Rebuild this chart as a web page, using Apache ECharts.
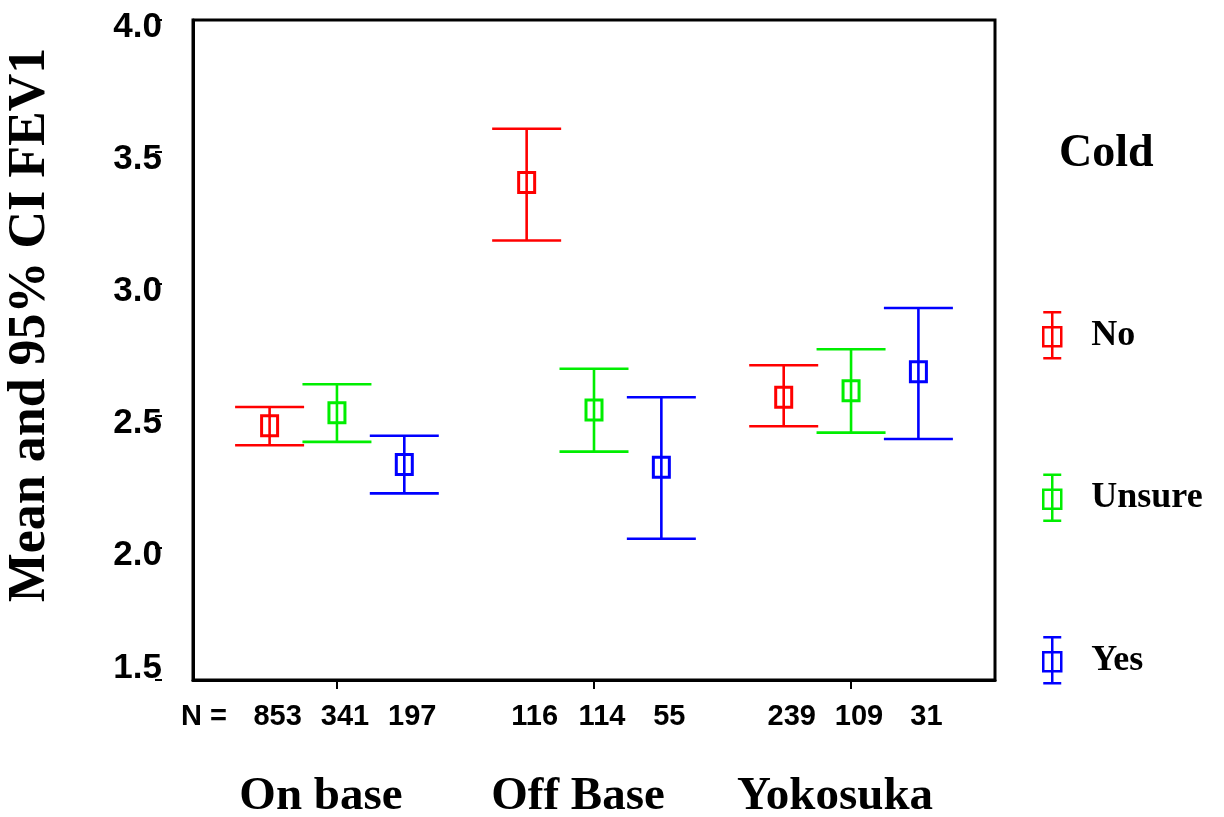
<!DOCTYPE html>
<html>
<head>
<meta charset="utf-8">
<script src="https://cdn.jsdelivr.net/npm/echarts@6/dist/echarts.min.js"></script>
<style>html,body{margin:0;padding:0;background:#fff;}#c{width:1224px;height:817px;}</style>
</head>
<body>
<div id="c"></div>
<script>
const groups = ['On base', 'Off Base', 'Yokosuka'];
const coldLevels = ['No', 'Unsure', 'Yes'];
const coldColors = ['#ff0000', '#00ee00', '#0000ff'];
const groupPos = [1, 2, 3];
const clusterOffset = [-0.262, 0, 0.262];
const yTicks = [1.5, 2.0, 2.5, 3.0, 3.5, 4.0];

const meanNo = [2.463, 3.384, 2.571];
const lowNo = [2.389, 3.165, 2.461];
const highNo = [2.534, 3.588, 2.692];
const nNo = [853, 116, 239];

const meanUnsure = [2.512, 2.523, 2.596];
const lowUnsure = [2.402, 2.365, 2.437];
const highUnsure = [2.620, 2.679, 2.753];
const nUnsure = [341, 114, 109];

const meanYes = [2.316, 2.306, 2.668];
const lowYes = [2.207, 2.035, 2.413];
const highYes = [2.425, 2.571, 2.909];
const nYes = [197, 55, 31];

const means = [meanNo, meanUnsure, meanYes];
const lows = [lowNo, lowUnsure, lowYes];
const highs = [highNo, highUnsure, highYes];
const ns = [nNo, nUnsure, nYes];

const chart = echarts.init(document.getElementById('c'));

function renderBar(params, api) {
  const x = api.value(0), lo = api.value(1), m = api.value(2), hi = api.value(3);
  const pHi = api.coord([x, hi]), pLo = api.coord([x, lo]), pM = api.coord([x, m]);
  const color = api.visual('color');
  const half = 34.5;
  const st = {stroke: color, lineWidth: 2.6, fill: null};
  return {
    type: 'group',
    children: [
      {type: 'line', shape: {x1: pHi[0], y1: pHi[1], x2: pLo[0], y2: pLo[1]}, style: st},
      {type: 'line', shape: {x1: pHi[0] - half, y1: pHi[1], x2: pHi[0] + half, y2: pHi[1]}, style: st},
      {type: 'line', shape: {x1: pLo[0] - half, y1: pLo[1], x2: pLo[0] + half, y2: pLo[1]}, style: st},
      {type: 'rect', shape: {x: pM[0] - 8, y: pM[1] - 10, width: 16, height: 20}, style: {stroke: color, lineWidth: 3, fill: null}}
    ]
  };
}

function renderN(params, api) {
  const x = api.value(0), n = api.value(1);
  const p = api.coord([x, yTicks[0]]);
  return {
    type: 'text',
    x: p[0] + 8, y: p[1] + 37,
    style: {text: String(n), font: 'bold 29px "Liberation Sans", Arial, sans-serif', fill: '#000', align: 'center', verticalAlign: 'middle'}
  };
}

const series = [];
coldLevels.forEach((lvl, ci) => {
  series.push({
    type: 'custom',
    name: lvl,
    renderItem: renderBar,
    itemStyle: {color: coldColors[ci]},
    encode: {x: 0, y: [1, 2, 3]},
    data: groupPos.map((g, gi) => [g + clusterOffset[ci], lows[ci][gi], means[ci][gi], highs[ci][gi]]),
    z: 3
  });
});
series.push({
  type: 'custom',
  name: 'N',
  renderItem: renderN,
  encode: {x: 0},
  clip: false,
  silent: true,
  data: [].concat(...coldLevels.map((l, ci) => groupPos.map((g, gi) => [g + clusterOffset[ci], ns[ci][gi]])))
});

const iconPath = 'path://M0,0H18M9,0V46M0,46H18M0,15H18V34H0Z';

chart.setOption({
  animation: false,
  backgroundColor: '#fff',
  title: {
    text: 'Cold', left: 1054, top: 126,
    textStyle: {fontFamily: '"Liberation Serif", "Times New Roman", serif', fontWeight: 'bold', fontSize: 46, color: '#000'}
  },
  legend: {
    orient: 'vertical', left: 1037, top: 306,
    itemWidth: 18, itemHeight: 46, itemGap: 114,
    selectedMode: false,
    data: coldLevels.map((l, ci) => ({
      name: l, icon: iconPath,
      itemStyle: {color: 'rgba(0,0,0,0)', borderColor: coldColors[ci], borderWidth: 2.5}
    })),
    textStyle: {fontFamily: '"Liberation Serif", "Times New Roman", serif', fontWeight: 'bold', fontSize: 36, color: '#000', padding: [0, 0, 0, 25]}
  },
  grid: {left: 193, top: 20, right: 229, bottom: 137, show: true, borderColor: '#000', borderWidth: 3, containLabel: false, outerBoundsMode: 'none'},
  xAxis: {
    type: 'value', min: 0.44, max: 3.56,
    splitLine: {show: false},
    axisLine: {show: true, lineStyle: {color: '#000', width: 3}},
    axisTick: {show: true, customValues: groupPos, length: 9, lineStyle: {color: '#000', width: 2}},
    axisLabel: {
      customValues: groupPos,
      formatter: v => '{g|' + groups[Math.round(v) - 1] + '}',
      margin: 93,
      rich: {g: {fontFamily: '"Liberation Serif", "Times New Roman", serif', fontWeight: 'bold', fontSize: 47, color: '#000', padding: [0, 32, 0, 0]}}
    }
  },
  yAxis: [{
    type: 'value', min: 1.5, max: 4.0, interval: 0.5,
    splitLine: {show: false},
    axisLine: {show: true, lineStyle: {color: '#000', width: 3}},
    axisTick: {show: false},
    axisLabel: {
      margin: 31,
      formatter: v => (Math.abs(v - 1.5) < 1e-6 ? '{b|' : '{a|') + v.toFixed(1) + '}',
      rich: {
        a: {fontFamily: '"Liberation Sans", Arial, sans-serif', fontWeight: 'bold', fontSize: 35, color: '#000', padding: [14, 0, 0, 0]},
        b: {fontFamily: '"Liberation Sans", Arial, sans-serif', fontWeight: 'bold', fontSize: 35, color: '#000', padding: [0, 0, 24, 0]}
      }
    }
  }, {
    type: 'value', min: 1.5, max: 4.0, interval: 0.5, position: 'left', offset: 31,
    splitLine: {show: false},
    axisLine: {show: false},
    axisTick: {show: true, length: 7, lineStyle: {color: '#000', width: 2}},
    axisLabel: {show: false}
  }],
  graphic: [
    {type: 'text', x: 31, y: 325, rotation: Math.PI / 2,
     style: {text: 'Mean and 95% CI FEV1', font: 'bold 52px "Liberation Serif", "Times New Roman", serif', fill: '#000', align: 'center', verticalAlign: 'middle'}},
    {type: 'text', x: 204, y: 717,
     style: {text: 'N =', font: 'bold 29px "Liberation Sans", Arial, sans-serif', fill: '#000', align: 'center', verticalAlign: 'middle'}}
  ],
  series: series
});
</script>
</body>
</html>
